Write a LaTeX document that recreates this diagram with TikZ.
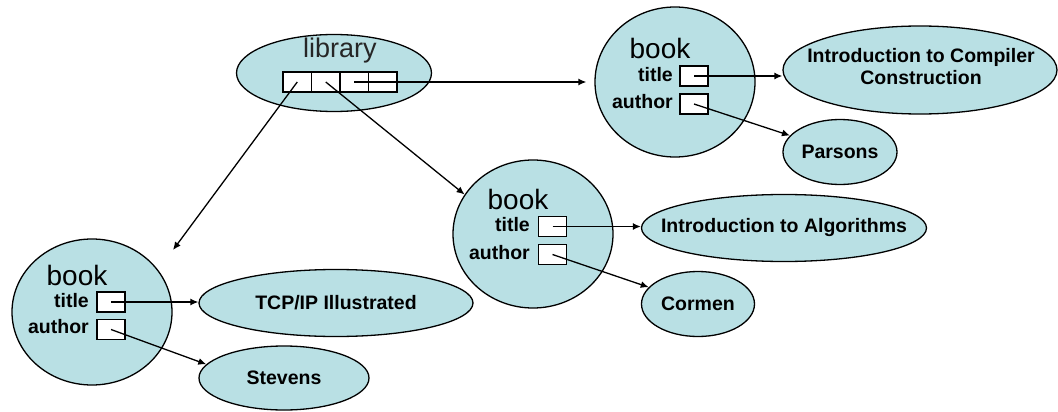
\documentclass[tikz,border=0pt]{standalone}
\usepackage{fontspec}
\setmainfont{Liberation Sans}
\usetikzlibrary{shapes.geometric,arrows.meta}
\definecolor{bubble}{RGB}{185,224,228}
\begin{document}
\begin{tikzpicture}[x=1pt,y=-1pt,
  blob/.style={ellipse, draw=black, fill=bubble, line width=1.3pt, inner sep=0pt},
  valtext/.style={font=\fontsize{19.5}{22}\selectfont\bfseries, align=center},
  fieldlbl/.style={font=\fontsize{19.5}{21}\selectfont\bfseries, anchor=east, inner sep=0pt},
  slot/.style={draw=black, fill=white, line width=1.2pt, minimum width=28pt, minimum height=20pt, inner sep=0pt},
  link/.style={line width=1.3pt, -{Latex[length=8pt,width=7pt]}},
  heading/.style={font=\fontsize{28}{30}\selectfont, inner sep=0pt}
]
\useasboundingbox (0,0) rectangle (1058,412);

% library object with its four reference cells
\node[blob, minimum width=195pt, minimum height=77pt] (lib) at (334,73) {};
\node[heading, font=\fontsize{27}{29}\selectfont, text=black!85] (libh) at (340,51) {library};
\node[slot, minimum width=28.5pt] (c1) at (297.25,82) {};
\node[slot, minimum width=28.5pt] (c2) at (325.75,82) {};
\node[slot, minimum width=28.5pt] (c3) at (354.25,82) {};
\node[slot, minimum width=28.5pt] (c4) at (382.75,82) {};

% book 1 (top right)
\node[blob, minimum width=160pt, minimum height=150pt] (book1) at (675,82) {};
\node[heading] (book1h) at (660,48) {book};
\node[fieldlbl] (book1t) at (673,75) {title};
\node[fieldlbl] (book1a) at (673,102) {author};
\node[slot] (book1ts) at (694,76) {};
\node[slot] (book1as) at (694,104) {};
\node[blob, minimum width=274pt, minimum height=88pt] (comp) at (920,70) {};
\node[valtext] (compt) at (921,67) {Introduction to Compiler\\Construction};
\node[blob, minimum width=114pt, minimum height=65pt] (parsons) at (840,152) {};
\node[valtext] (parsonst) at (840,152) {Parsons};

% book 2 (middle)
\node[blob, minimum width=160pt, minimum height=148pt] (book2) at (533,234) {};
\node[heading] (book2h) at (518,199) {book};
\node[fieldlbl] (book2t) at (530,225) {title};
\node[fieldlbl] (book2a) at (530,253) {author};
\node[slot] (book2ts) at (552.5,226.5) {};
\node[slot] (book2as) at (552.5,254.5) {};
\node[blob, minimum width=285pt, minimum height=67pt] (alg) at (784,228) {};
\node[valtext] (algt) at (784,228) {Introduction to Algorithms};
\node[blob, minimum width=113pt, minimum height=65pt] (cormen) at (698,304) {};
\node[valtext] (corment) at (698,304) {Cormen};

% book 3 (bottom left)
\node[blob, minimum width=160pt, minimum height=146pt] (book3) at (92,312) {};
\node[heading] (book3h) at (77,275) {book};
\node[fieldlbl] (book3t) at (89,301) {title};
\node[fieldlbl] (book3a) at (89,327) {author};
\node[slot] (book3ts) at (111,302) {};
\node[slot] (book3as) at (111,329.5) {};
\node[blob, minimum width=274pt, minimum height=67pt] (tcp) at (336,303) {};
\node[valtext] (tcpt) at (336,303) {TCP/IP Illustrated};
\node[blob, minimum width=170pt, minimum height=64pt] (stevens) at (284,378) {};
\node[valtext] (stevenst) at (284,378) {Stevens};

% references
\coordinate (b3tip) at (173,250);
\draw[link] (c1.center) -- (b3tip);
\draw[link] (c2.center) -- (book2.150);
\draw[link, shorten >=8pt] (c3.center) -- (c3.center -| book1.west);

\draw[link] (book1ts.center) -- (book1ts.center -| comp.west);
\draw[link] (book1as.center) -- (parsons);
\draw[link] (book2ts.center) -- (book2ts.center -| alg.west);
\draw[link] (book2as.center) -- (cormen);
\draw[link] (book3ts.center) -- (book3ts.center -| tcp.west);
\draw[link] (book3as.center) -- (stevens.170);
\end{tikzpicture}
\end{document}
